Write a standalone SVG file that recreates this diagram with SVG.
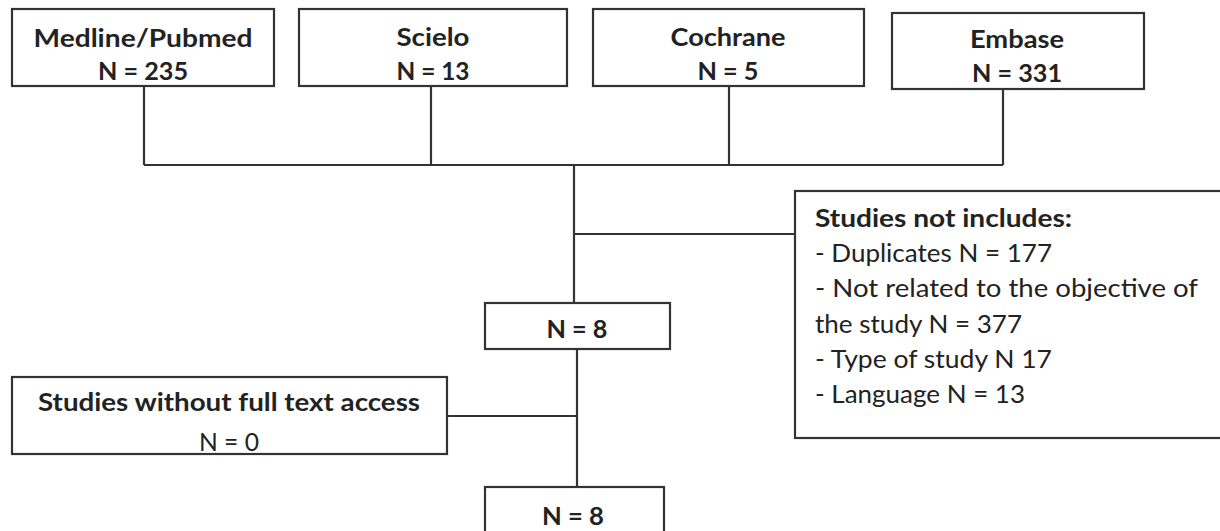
<svg xmlns="http://www.w3.org/2000/svg" width="1220" height="531" viewBox="0 0 1220 531">
<style>
.box{fill:#fff;stroke:#333;stroke-width:2.2}
.ln{fill:none;stroke:#333;stroke-width:2.2}
.b{font-family:Lato,"Open Sans","Liberation Sans",sans-serif;font-weight:bold;font-size:25px;fill:#222;text-anchor:middle}
.r{font-family:Lato,"Open Sans","Liberation Sans",sans-serif;font-size:25px;fill:#222}
.rc{font-family:Lato,"Open Sans","Liberation Sans",sans-serif;font-size:25px;fill:#222;text-anchor:middle}
.bl{font-family:Lato,"Open Sans","Liberation Sans",sans-serif;font-weight:bold;font-size:25px;fill:#222}
</style>
<rect width="1220" height="531" fill="#fff"/>
<g id="connectors">
<path class="ln" d="M144 86V165M431 86V165M729 86V165M1003 89V165M144 165H1003"/>
<path class="ln" d="M574 165V303M574 234H795"/>
<path class="ln" d="M577 349V487M447 416H577"/>
</g>
<g id="medline">
<rect class="box" x="12" y="9" width="262" height="77"/>
<text class="b" x="143" y="47" textLength="219" lengthAdjust="spacingAndGlyphs">Medline/Pubmed</text>
<text class="b" x="143" y="80" textLength="90" lengthAdjust="spacingAndGlyphs">N = 235</text>
</g>
<g id="scielo">
<rect class="box" x="299" y="9" width="268" height="77"/>
<text class="b" x="433" y="46" textLength="73" lengthAdjust="spacingAndGlyphs">Scielo</text>
<text class="b" x="433" y="80" textLength="73" lengthAdjust="spacingAndGlyphs">N = 13</text>
</g>
<g id="cochrane">
<rect class="box" x="593" y="9" width="271" height="77"/>
<text class="b" x="728" y="46" textLength="115" lengthAdjust="spacingAndGlyphs">Cochrane</text>
<text class="b" x="728" y="80" textLength="61" lengthAdjust="spacingAndGlyphs">N = 5</text>
</g>
<g id="embase">
<rect class="box" x="892" y="13" width="252" height="76"/>
<text class="b" x="1017" y="48" textLength="94" lengthAdjust="spacingAndGlyphs">Embase</text>
<text class="b" x="1017" y="82" textLength="90" lengthAdjust="spacingAndGlyphs">N = 331</text>
</g>
<g id="excluded">
<rect class="box" x="795" y="191" width="430" height="247"/>
<text class="bl" x="815" y="227" textLength="257" lengthAdjust="spacingAndGlyphs">Studies not includes:</text>
<text class="r" x="815" y="262" textLength="237" lengthAdjust="spacingAndGlyphs">- Duplicates N = 177</text>
<text class="r" x="815" y="297" textLength="383" lengthAdjust="spacingAndGlyphs">- Not related to the objective of</text>
<text class="r" x="815" y="333" textLength="207" lengthAdjust="spacingAndGlyphs">the study N = 377</text>
<text class="r" x="815" y="368" textLength="237" lengthAdjust="spacingAndGlyphs">- Type of study N 17</text>
<text class="r" x="815" y="403" textLength="210" lengthAdjust="spacingAndGlyphs">- Language N = 13</text>
</g>
<g id="screened">
<rect class="box" x="485" y="303" width="185" height="46"/>
<text class="b" x="577" y="338" textLength="61" lengthAdjust="spacingAndGlyphs">N = 8</text>
</g>
<g id="no-access">
<rect class="box" x="12" y="377" width="435" height="77"/>
<text class="b" x="229" y="411" textLength="382" lengthAdjust="spacingAndGlyphs">Studies without full text access</text>
<text class="rc" x="229" y="451" textLength="60" lengthAdjust="spacingAndGlyphs">N = 0</text>
</g>
<g id="included">
<rect class="box" x="485" y="487" width="179" height="50"/>
<text class="b" x="573" y="525" textLength="62" lengthAdjust="spacingAndGlyphs">N = 8</text>
</g>
</svg>
